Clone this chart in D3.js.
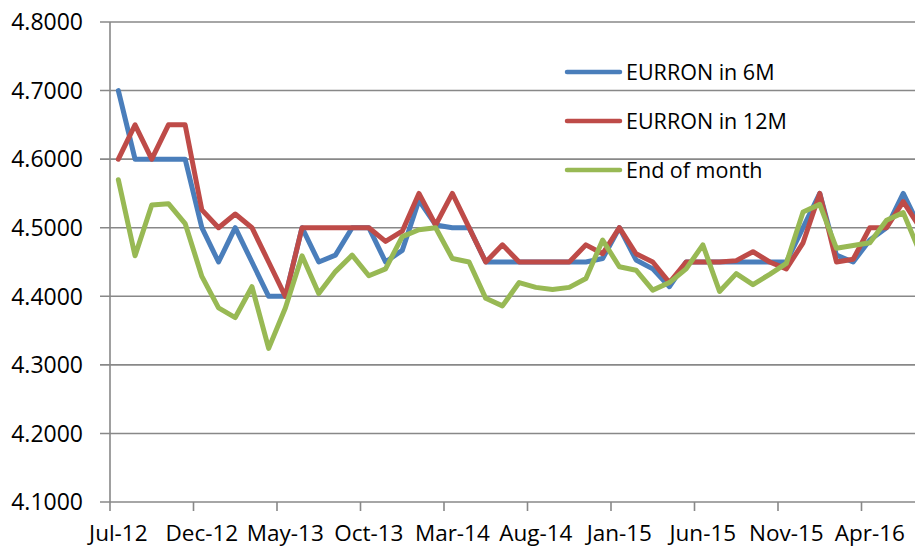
<!DOCTYPE html>
<html lang="en">
<head>
<meta charset="UTF-8">
<title>EURRON</title>
<script src="https://cdn.jsdelivr.net/npm/d3@7/dist/d3.min.js"></script>
<style>
  body { margin: 0; background: #fff; }
  svg { display: block; font-family: "Open Sans", sans-serif; }
</style>
</head>
<body>
<svg id="main" width="915" height="548"></svg>
<script>
  // categories: monthly, Jul-12 .. Jul-16
  const months = d3.timeMonth.range(new Date(2012, 6, 1), new Date(2016, 7, 1))
    .map(d3.timeFormat("%b-%y"));

  const tickLabels = ["Jul-12", "Dec-12", "May-13", "Oct-13", "Mar-14",
    "Aug-14", "Jan-15", "Jun-15", "Nov-15", "Apr-16"];

  const yTicks = [4.1, 4.2, 4.3, 4.4, 4.5, 4.6, 4.7, 4.8];

  const eurron6m = [4.70, 4.60, 4.60, 4.60, 4.60, 4.50, 4.45, 4.50, 4.45, 4.40,
    4.40, 4.50, 4.45, 4.46, 4.50, 4.50, 4.45, 4.467, 4.54, 4.504,
    4.50, 4.50, 4.45, 4.45, 4.45, 4.45, 4.45, 4.45, 4.45, 4.455,
    4.50, 4.453, 4.44, 4.414, 4.45, 4.45, 4.45, 4.45, 4.45, 4.45,
    4.45, 4.50, 4.55, 4.46, 4.45, 4.482, 4.50, 4.55, 4.50];

  const eurron12m = [4.60, 4.65, 4.60, 4.65, 4.65, 4.526, 4.50, 4.52, 4.50, 4.45,
    4.40, 4.50, 4.50, 4.50, 4.50, 4.50, 4.48, 4.495, 4.55, 4.504,
    4.55, 4.50, 4.45, 4.475, 4.45, 4.45, 4.45, 4.45, 4.475, 4.462,
    4.50, 4.462, 4.45, 4.42, 4.45, 4.45, 4.45, 4.452, 4.465, 4.45,
    4.44, 4.478, 4.55, 4.45, 4.454, 4.50, 4.50, 4.538, 4.50];

  const endOfMonth = [4.57, 4.459, 4.533, 4.535, 4.506, 4.429, 4.383, 4.369, 4.414, 4.324,
    4.383, 4.459, 4.404, 4.436, 4.46, 4.43, 4.44, 4.487, 4.497, 4.50,
    4.455, 4.45, 4.397, 4.386, 4.42, 4.413, 4.41, 4.413, 4.426, 4.482,
    4.443, 4.438, 4.409, 4.42, 4.44, 4.475, 4.407, 4.433, 4.417, 4.432,
    4.448, 4.523, 4.534, 4.47, 4.474, 4.478, 4.511, 4.522, 4.464];

  const series = [
    { name: "EURRON in 6M", values: eurron6m, color: "#4a7ebb" },
    { name: "EURRON in 12M", values: eurron12m, color: "#be4b48" },
    { name: "End of month", values: endOfMonth, color: "#98b954" }
  ];

  const svg = d3.select("#main");
  const plotLeft = 110, plotTop = 22, plotBottom = 502, step = 16.7;
  const W = 915;

  const x = d3.scaleBand()
    .domain(months)
    .range([plotLeft, plotLeft + months.length * step]);

  const y = d3.scaleLinear()
    .domain([4.1, 4.8])
    .range([plotBottom, plotTop]);

  const grey = "#888";

  // gridlines + y ticks
  svg.append("g")
    .selectAll("line")
    .data(yTicks)
    .join("line")
    .attr("x1", plotLeft - 10)
    .attr("x2", W)
    .attr("y1", d => y(d))
    .attr("y2", d => y(d))
    .attr("stroke", grey)
    .attr("stroke-width", 1.6);

  svg.append("g")
    .selectAll("text")
    .data(yTicks)
    .join("text")
    .attr("x", 83)
    .attr("y", d => y(d))
    .attr("dy", "0.36em")
    .attr("text-anchor", "end")
    .attr("font-size", 23)
    .attr("fill", "#000")
    .text(d => d3.format(".4f")(d));

  // y axis line
  svg.append("line")
    .attr("x1", plotLeft).attr("x2", plotLeft)
    .attr("y1", y(4.8)).attr("y2", y(4.1))
    .attr("stroke", grey)
    .attr("stroke-width", 1.6);

  // x tick marks at category boundaries, labels at category centres
  svg.append("g")
    .selectAll("line")
    .data(tickLabels)
    .join("line")
    .attr("x1", d => x(d))
    .attr("x2", d => x(d))
    .attr("y1", plotBottom)
    .attr("y2", plotBottom + 9)
    .attr("stroke", grey)
    .attr("stroke-width", 1.6);

  svg.append("g")
    .selectAll("text")
    .data(tickLabels)
    .join("text")
    .attr("x", d => x(d) + x.bandwidth() / 2)
    .attr("y", 541)
    .attr("text-anchor", "middle")
    .attr("font-size", 22.5)
    .attr("fill", "#000")
    .text(d => d);

  // series lines
  const line = d3.line()
    .x((d, i) => x(months[i]) + x.bandwidth() / 2)
    .y(d => y(d));

  svg.append("g")
    .selectAll("path")
    .data(series)
    .join("path")
    .attr("d", d => line(d.values))
    .attr("fill", "none")
    .attr("stroke", d => d.color)
    .attr("stroke-width", 5)
    .attr("stroke-linejoin", "round")
    .attr("stroke-linecap", "round");

  // legend
  const legend = svg.append("g")
    .selectAll("g")
    .data(series)
    .join("g")
    .attr("transform", (d, i) => `translate(567, ${72 + i * 49})`);

  legend.append("line")
    .attr("x1", 0).attr("x2", 53)
    .attr("stroke", d => d.color)
    .attr("stroke-width", 4.5)
    .attr("stroke-linecap", "round");

  legend.append("text")
    .attr("x", 59)
    .attr("dy", "0.36em")
    .attr("font-size", 21.5)
    .attr("fill", "#000")
    .text(d => d.name);
</script>
</body>
</html>
